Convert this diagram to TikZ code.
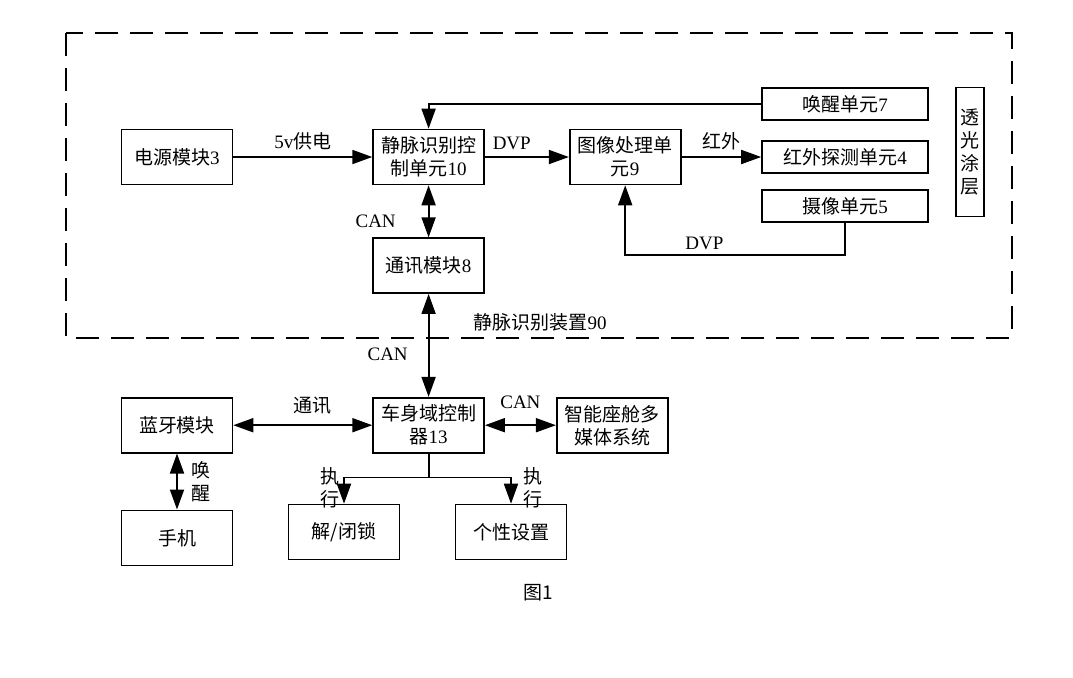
\documentclass[tikz,border=0pt]{standalone}
\usepackage{fontspec}
\setmainfont{Liberation Serif}
\newfontfamily\cjk{Noto Sans CJK SC}
\newcommand{\zh}[1]{{\cjk #1}}
\usepackage{tikz}
\usetikzlibrary{arrows.meta, positioning}
\tikzstyle{block} = [rectangle,
minimum width=55.5pt,
minimum height=27.5pt,
inner sep=2pt,
text centered,
align=center,
draw=black,
line width=0.8pt,
font=\fontsize{9.5pt}{11.5pt}\selectfont]
\tikzstyle{unit} = [block,
minimum width=83pt,
minimum height=16pt]
\tikzstyle{coat} = [block,
minimum width=14pt,
minimum height=64.5pt,
inner sep=0pt]
\tikzstyle{lbl} = [inner sep=1pt, align=center, font=\fontsize{9.5pt}{11.5pt}\selectfont]
\tikzstyle{frame} = [line width=0.8pt, dash pattern=on 11.5pt off 6pt]
\tikzstyle{arrow} = [line width=0.9pt, -{Triangle[length=10pt,width=7pt]}]
\tikzstyle{darrow} = [line width=0.9pt, {Triangle[length=10pt,width=7pt]}-{Triangle[length=10pt,width=7pt]}]

\begin{document}
\begin{tikzpicture}[x=0.5pt, y=-0.5pt]
			\useasboundingbox (0,0) rectangle (1073,677);
			% vein recognition device
			\draw[frame] (66,33) rectangle (1012,338);
			\node (devlbl) [lbl] at (540,322) {\zh{静脉识别装置}90};

			\node (pwr) [block] at (177,157) {\zh{电源模块}3};
			\node (ctrl) [block, right=69.5pt of pwr] {\zh{静脉识别控}\\\zh{制单元}10};
			\node (img) [block, right=42pt of ctrl] {\zh{图像处理单}\\\zh{元}9};
			\node (comm) [block, below=26pt of ctrl] {\zh{通讯模块}8};
			\node (wake) [unit] at (845,104) {\zh{唤醒单元}7};
			\node (ir) [unit] at (845,157) {\zh{红外探测单元}4};
			\node (cam) [unit] at (845,206) {\zh{摄像单元}5};
			\node (coat) [coat] at (970,152) {\zh{透}\\\zh{光}\\\zh{涂}\\\zh{层}};

			% vehicle side
			\node (body) [block, below=51.5pt of comm] {\zh{车身域控制}\\\zh{器}13};
			\node (bt) [block, left=69.5pt of body] {\zh{蓝牙模块}};
			\node (media) [block, right=35.5pt of body] {\zh{智能座舱多}\\\zh{媒体系统}};
			\node (phone) [block, below=28pt of bt] {\zh{手机}};
			\node (lock) [block] at (344,532) {\zh{解/闭锁}};
			\node (pers) [block] at (511,532) {\zh{个性设置}};

			\node (cap) [lbl] at (538,593) {\zh{图1}};

			\draw[arrow] (pwr) -- node[lbl, above=2pt] {5v\zh{供电}} (ctrl);
			\draw[arrow] (ctrl) -- node[lbl, above=2pt, pos=0.32] {DVP} (img);
			\draw[arrow] (img) -- node[lbl, above=2pt] {\zh{红外}} (ir);
			\draw[arrow] (wake.west) -| (ctrl.north);
			\draw[arrow] (cam.south) -- ++(0,32) -| node[lbl, above=1pt, pos=0.32] {DVP} (img.south);
			\draw[darrow] (ctrl) -- node[lbl, left=15pt, pos=0.69] {CAN} (comm);
			\draw[darrow] (comm) -- node[lbl, left=9pt, pos=0.59] {CAN} (body);
			\draw[darrow] (bt) -- node[lbl, above=4pt, xshift=5pt] {\zh{通讯}} (body);
			\draw[darrow] (body) -- node[lbl, above=7pt] {CAN} (media);
			\draw[darrow] (bt) -- node[lbl, right=6pt] {\zh{唤}\\\zh{醒}} (phone);
			\draw[line width=0.9pt] (body.south) -- ++(0,24) coordinate (split);
			\draw[arrow] (split) -| node[lbl, left=1pt, pos=0.7] {\zh{执}\\\zh{行}} (lock.north);
			\draw[arrow] (split) -| node[lbl, right=5pt, pos=0.7] {\zh{执}\\\zh{行}} (pers.north);
		\end{tikzpicture}
\end{document}
